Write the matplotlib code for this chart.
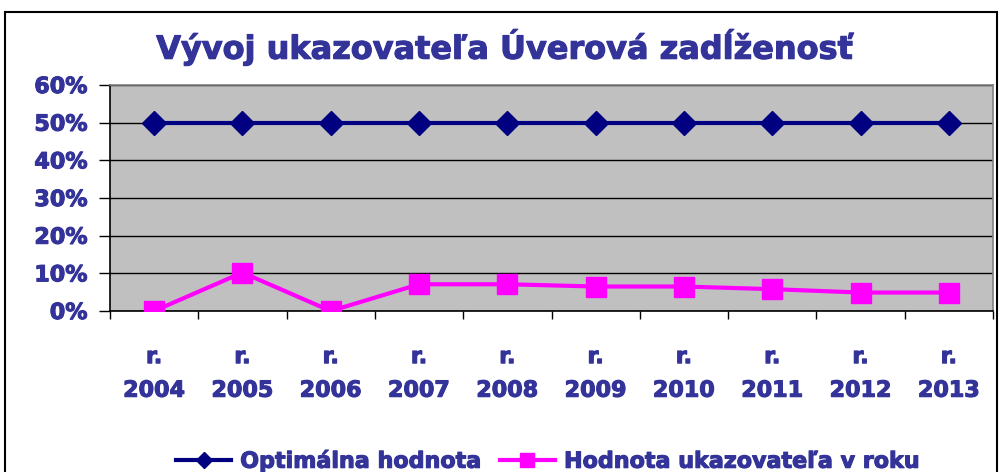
import matplotlib
matplotlib.use("Agg")
import matplotlib.pyplot as plt
import matplotlib.patheffects as pe
from matplotlib.ticker import FuncFormatter, FixedLocator, NullFormatter

years = ["2004", "2005", "2006", "2007", "2008", "2009", "2010", "2011", "2012", "2013"]
optimal = [0.50, 0.50, 0.50, 0.50, 0.50, 0.50, 0.50, 0.50, 0.50, 0.50]
actual = [0.0, 0.102, 0.0, 0.071, 0.071, 0.065, 0.065, 0.058, 0.049, 0.049]

txt_col = "#333399"
plt.rcParams["font.family"] = ["DejaVu Sans"]
heavy = [pe.withStroke(linewidth=0.8, foreground=txt_col)]

fig = plt.figure(figsize=(10, 4.72), dpi=100)
ax = fig.add_axes([0.110, 1 - 311 / 472, 0.883, (311 - 85) / 472])
ax.set_facecolor("#C0C0C0")

x = list(range(len(years)))
ax.plot(x, optimal, color="#000080", lw=3, marker="D", ms=12, label="Optimálna hodnota", zorder=3)
ax.plot(x, actual, color="#FF00FF", lw=3, marker="s", ms=14.5, label="Hodnota ukazovateľa v roku", zorder=3)

ax.set_xlim(-0.5, len(years) - 0.5)
ax.set_ylim(0, 0.6)
ax.set_yticks([0, 0.1, 0.2, 0.3, 0.4, 0.5, 0.6])
ax.yaxis.set_major_formatter(FuncFormatter(lambda v, p: "{:.0f}%".format(v * 100)))
ax.grid(axis="y", color="black", lw=1)
ax.set_axisbelow(True)

# ticks between categories, labels centred on points
ax.xaxis.set_major_locator(FixedLocator([i - 0.5 for i in range(len(years) + 1)]))
ax.xaxis.set_major_formatter(NullFormatter())
ax.set_xticks(x, minor=True)
ax.set_xticklabels(["r.\n" + y for y in years], minor=True)
ax.tick_params(axis="x", which="minor", length=0, pad=26)
ax.tick_params(axis="x", which="major", length=6, width=1, direction="out")
ax.tick_params(axis="y", length=8, width=1, direction="out", pad=8)

for lab in ax.get_xticklabels(minor=True):
    lab.set_fontweight("bold")
    lab.set_fontsize(16)
    lab.set_color(txt_col)
    lab.set_linespacing(1.85)
    lab.set_path_effects(heavy)
for lab in ax.get_yticklabels():
    lab.set_fontweight("bold")
    lab.set_fontsize(16)
    lab.set_color(txt_col)
    lab.set_path_effects(heavy)

for s in ["top", "right"]:
    ax.spines[s].set_color("#808080")
    ax.spines[s].set_linewidth(1.2)
for s in ["left", "bottom"]:
    ax.spines[s].set_color("black")
    ax.spines[s].set_linewidth(1.2)

fig.text(0.505, 1 - 47 / 472, "Vývoj ukazovateľa Úverová zadĺženosť", ha="center", va="center",
         fontweight="bold", fontsize=23, color=txt_col, path_effects=heavy)

leg = fig.legend(loc="center", bbox_to_anchor=(0.548, 1 - 461 / 472), ncol=2, frameon=False,
                 prop={"weight": "bold", "size": 16},
                 handlelength=2.5, handletextpad=0.4, columnspacing=0.8, markerscale=0.7)
for t in leg.get_texts():
    t.set_color(txt_col)
    t.set_path_effects(heavy)

# figure border
fig.add_artist(plt.Rectangle((5 / 1000, -0.1), 992 / 1000, 1.1 - 12 / 472, transform=fig.transFigure,
                             fill=False, edgecolor="black", lw=1.5))

fig.savefig("out.png", dpi=100)
